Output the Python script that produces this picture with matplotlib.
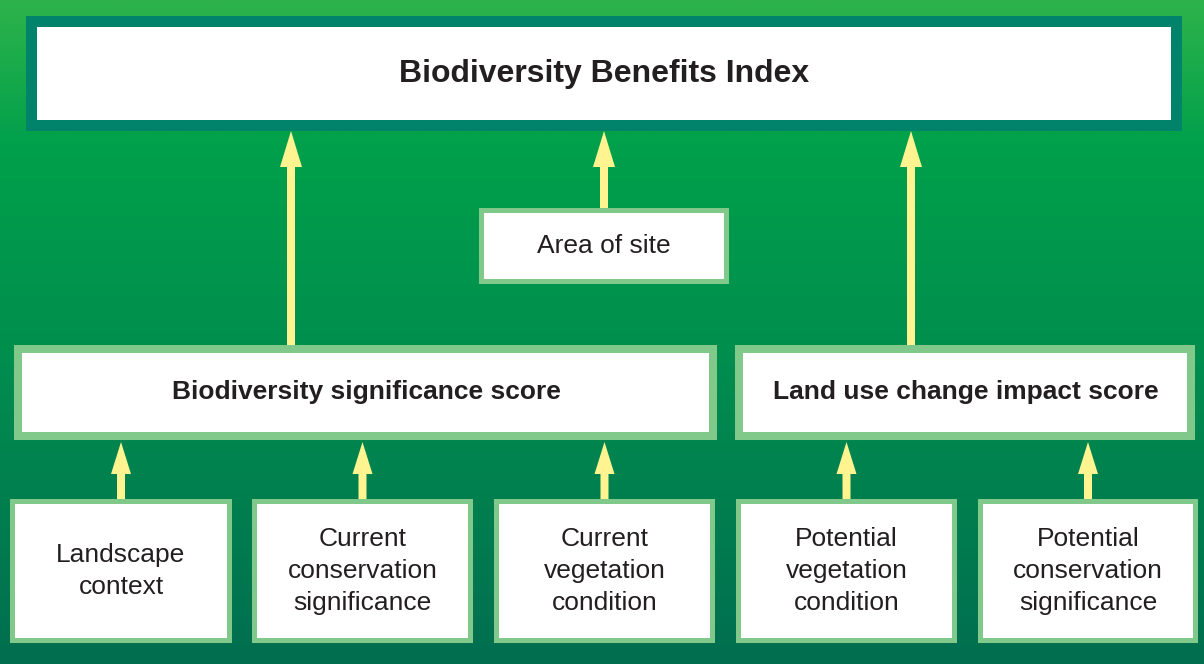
import matplotlib
matplotlib.use("Agg")
import matplotlib.pyplot as plt
import numpy as np
from matplotlib.patches import Rectangle, FancyArrow

plt.rcParams['font.family'] = ['Liberation Sans', 'DejaVu Sans']

title_label = "Biodiversity Benefits Index"
middle_label = "Area of site"
score_labels = ["Biodiversity significance score", "Land use change impact score"]
input_labels = ["Landscape\ncontext",
                "Current\nconservation\nsignificance",
                "Current\nvegetation\ncondition",
                "Potential\nvegetation\ncondition",
                "Potential\nconservation\nsignificance"]

W, H = 1204, 664
fig = plt.figure(figsize=(W / 100, H / 100), dpi=100)
ax = fig.add_axes([0, 0, 1, 1])
ax.set_xlim(0, W)
ax.set_ylim(H, 0)
ax.axis('off')

# background gradient
stops = [(0.0, (0x2e, 0xb3, 0x4b)), (0.22, (0x00, 0xa0, 0x4b)), (0.55, (0x00, 0x8d, 0x4e)), (1.0, (0x00, 0x6e, 0x50))]
t = np.linspace(0, 1, 400)
cols = np.zeros((400, 3))
for c in range(3):
    cols[:, c] = np.interp(t, [s[0] for s in stops], [s[1][c] / 255 for s in stops])
grad = np.repeat(cols[:, None, :], 2, axis=1)
ax.imshow(grad, extent=[0, W, H, 0], aspect='auto', zorder=0)

TEAL = '#00826b'
LIGHT = '#80c98b'
YELLOW = '#fff48f'
TXT = '#231f20'

def box(x0, y0, x1, y1, border, bw):
    ax.add_patch(Rectangle((x0, y0), x1 - x0, y1 - y0, facecolor=border, edgecolor='none', zorder=2))
    ax.add_patch(Rectangle((x0 + bw, y0 + bw), x1 - x0 - 2 * bw, y1 - y0 - 2 * bw,
                           facecolor='white', edgecolor='none', zorder=3))

def arrow(x, ybase, ytip, hw=22, hl=36):
    ax.add_patch(FancyArrow(x, ybase, 0, ytip - ybase, width=8, head_width=hw, head_length=hl,
                            length_includes_head=True, facecolor=YELLOW, edgecolor='none', zorder=1.5))

def lines(xc, yc, text, pitch=32, **kw):
    parts = text.split("\n")
    n = len(parts)
    for i, p in enumerate(parts):
        ax.text(xc, yc + (i - (n - 1) / 2) * pitch, p, ha='center', va='baseline', zorder=5, **kw)

# top box
box(26, 16, 1182, 131, TEAL, 11)
ax.text(604, 82, title_label, ha='center', va='baseline', fontsize=23, fontweight='bold', color=TXT, zorder=5)

# arrows to top
arrow(291, 346, 131)
arrow(604, 209, 131)
arrow(911, 346, 131)

# area of site
box(479, 208, 729, 284, LIGHT, 5)
ax.text(604, 253, middle_label, ha='center', va='baseline', fontsize=19, color=TXT, zorder=5)

# score boxes
score_x = [(14, 717), (735, 1195)]
for (x0, x1), lab in zip(score_x, score_labels):
    box(x0, 345, x1, 440, LIGHT, 8)
    ax.text((x0 + x1) / 2 + 1, 399, lab, ha='center', va='baseline', fontsize=19, fontweight='bold', color=TXT, zorder=5)

# input boxes
input_x = [(10, 232), (252, 473), (494, 715), (736, 957), (978, 1198)]
for (x0, x1), lab in zip(input_x, input_labels):
    box(x0, 499, x1, 643, LIGHT, 5)
    xc = (x0 + x1) / 2
    lines(xc, 578, lab, fontsize=19, color=TXT)
    arrow(xc, 500, 442, hw=20, hl=32)

fig.savefig('out.png', dpi=100)
